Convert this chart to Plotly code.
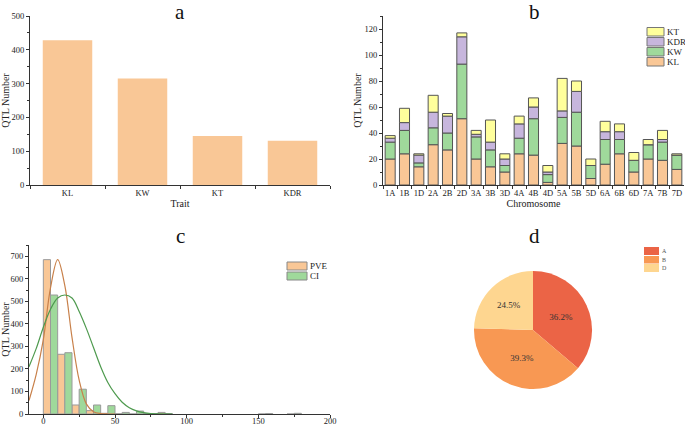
import plotly.graph_objects as go

# ---------------- data ----------------
traits = ["KL", "KW", "KT", "KDR"]
trait_counts = [428, 315, 145, 131]

chromosomes = ["1A", "1B", "1D", "2A", "2B", "2D", "3A", "3B", "3D", "4A", "4B",
               "4D", "5A", "5B", "5D", "6A", "6B", "6D", "7A", "7B", "7D"]
kl = [20, 24, 14, 31, 27, 51, 20, 14, 10, 24, 23, 2, 32, 30, 5, 16, 24, 10, 20, 19, 12]
kw = [13, 18, 3, 13, 13, 42, 17, 13, 5, 12, 28, 6, 20, 26, 10, 19, 11, 9, 11, 14, 11]
kdr = [3, 6, 6, 12, 13, 21, 2, 6, 5, 11, 9, 2, 5, 16, 0, 6, 6, 0, 0, 2, 0]
kt = [2, 11, 1, 13, 2, 3, 3, 17, 4, 6, 7, 5, 25, 8, 5, 8, 6, 6, 4, 7, 1]

bin_centers = [5, 15, 25, 35, 45, 55, 65, 75, 85, 155, 175]
pve_counts = [685, 265, 40, 15, 3, 1, 0, 2, 7, 0, 0]
ci_counts = [528, 272, 110, 40, 37, 7, 13, 2, 2, 2, 3]

pve_curve_x = [-10, -5, 0, 5, 10, 15, 20, 25, 30, 35, 40, 45, 50]
pve_curve_y = [60, 175, 330, 560, 685, 570, 340, 150, 45, 10, 2, 0, 0]
ci_curve_x = [-10, -5, 0, 5, 10, 15, 20, 25, 30, 35, 40, 45, 50, 55, 60, 65, 70, 75, 80, 90]
ci_curve_y = [210, 290, 385, 465, 515, 528, 515, 455, 380, 295, 210, 140, 90, 52, 28, 14, 6, 2, 1, 0]

genomes = ["A", "B", "D"]
genome_share = [36.2, 39.3, 24.5]

# ---------------- style ----------------
FONT = "Liberation Serif"
C_KL = "#F9C796"
C_KW = "#9FD99B"
C_KDR = "#C7B6DD"
C_KT = "#FFFF9C"
PIE_COLORS = ["#EB6446", "#F89853", "#FED690"]
EDGE = "#555555"
W, H = 685, 426


def px_x(p):
    return p / W


def px_y(p):
    return 1 - p / H


fig = go.Figure()

# Panel a
fig.add_trace(go.Bar(x=traits, y=trait_counts, marker=dict(color=C_KL, line=dict(width=0)),
                     width=0.66, xaxis="x", yaxis="y"))

# Panel b stacked (bases from cumulative sums of the series)
series_b = [("KL", kl, C_KL), ("KW", kw, C_KW), ("KDR", kdr, C_KDR), ("KT", kt, C_KT)]
base = [0] * len(chromosomes)
for name, vals, col in series_b:
    fig.add_trace(go.Bar(x=chromosomes, y=vals, base=list(base), name=name, width=0.7,
                         marker=dict(color=col, line=dict(color=EDGE, width=1)),
                         xaxis="x2", yaxis="y2"))
    base = [b + v for b, v in zip(base, vals)]

# Panel c histogram
fig.add_trace(go.Bar(x=bin_centers, y=pve_counts, name="PVE", width=5, offset=-5,
                     marker=dict(color=C_KL, line=dict(color="#9a9a9a", width=1)),
                     xaxis="x3", yaxis="y3"))
fig.add_trace(go.Bar(x=bin_centers, y=ci_counts, name="CI", width=5, offset=0,
                     marker=dict(color=C_KW, line=dict(color="#9a9a9a", width=1)),
                     xaxis="x3", yaxis="y3"))
fig.add_trace(go.Scatter(x=pve_curve_x, y=pve_curve_y, mode="lines",
                         line=dict(color="#C8804A", width=1.2, shape="spline"), xaxis="x3", yaxis="y3"))
fig.add_trace(go.Scatter(x=ci_curve_x, y=ci_curve_y, mode="lines",
                         line=dict(color="#4E9A4E", width=1.2, shape="spline"), xaxis="x3", yaxis="y3"))

# Panel d pie
fig.add_trace(go.Pie(labels=genomes, values=genome_share, sort=False, direction="clockwise",
                     marker=dict(colors=PIE_COLORS, line=dict(width=0)),
                     texttemplate="%{value:.1f}%", textposition="inside", insidetextorientation="horizontal",
                     textfont=dict(family=FONT, size=9, color="#333333"),
                     domain=dict(x=[px_x(474), px_x(592)], y=[px_y(389), px_y(271)])))

axis_common = dict(showline=True, linecolor="#333333", linewidth=1, ticks="outside", ticklen=3,
                   tickcolor="#333333", tickfont=dict(family=FONT, size=8.5, color="#222222"),
                   showgrid=False, zeroline=False, automargin=False)
ytitle = dict(text="QTL Number", font=dict(size=10), standoff=1)

fig.update_layout(
    width=W, height=H, margin=dict(l=0, r=0, t=0, b=0, autoexpand=False),
    paper_bgcolor="white", plot_bgcolor="white",
    barmode="overlay", showlegend=False,
    font=dict(family=FONT, color="#222222"),
    xaxis=dict(domain=[px_x(30), px_x(330)], anchor="y", tickson="boundaries",
               title=dict(text="Trait", font=dict(size=10), standoff=2), **axis_common),
    yaxis=dict(domain=[px_y(185), px_y(16)], anchor="x", range=[0, 500], dtick=100,
               minor=dict(ticks="outside", ticklen=2, dtick=50, tickcolor="#333333"),
               title=ytitle, **axis_common),
    xaxis2=dict(domain=[px_x(383), px_x(684)], anchor="y2", tickson="boundaries", tickangle=0,
                title=dict(text="Chromosome", font=dict(size=10), standoff=2), **axis_common),
    yaxis2=dict(domain=[px_y(185), px_y(16)], anchor="x2", range=[0, 130], dtick=20,
                minor=dict(ticks="outside", ticklen=2, dtick=10, tickcolor="#333333"),
                title=ytitle, **axis_common),
    xaxis3=dict(domain=[px_x(29), px_x(330)], anchor="y3", range=[-10, 200], dtick=50,
                ticklabelstandoff=-4,
                minor=dict(ticks="outside", ticklen=2, dtick=25, tickcolor="#333333"), **axis_common),
    yaxis3=dict(domain=[px_y(414), px_y(245)], anchor="x3", range=[0, 750], dtick=100,
                minor=dict(ticks="outside", ticklen=2, dtick=50, tickcolor="#333333"),
                title=ytitle, **axis_common),
)

# ---- panel titles ----
for txt, x, y in [("a", 180, 12), ("b", 534, 12), ("c", 180, 236), ("d", 534, 236)]:
    fig.add_annotation(text=txt, x=px_x(x), y=px_y(y), xref="paper", yref="paper", showarrow=False,
                       xanchor="center", yanchor="middle",
                       font=dict(family=FONT, size=21, color="#111111"))


# ---- legends drawn as keys ----
def legend_key(x0, x1, y0, y1, color, label, tx, size, edge, tcolor="#222222"):
    fig.add_shape(type="rect", xref="paper", yref="paper", x0=px_x(x0), x1=px_x(x1),
                  y0=px_y(y1), y1=px_y(y0), fillcolor=color,
                  line=dict(color=edge if edge else color, width=1 if edge else 0))
    fig.add_annotation(text=label, x=px_x(tx), y=px_y((y0 + y1) / 2), xref="paper", yref="paper",
                       showarrow=False, xanchor="left", yanchor="middle",
                       font=dict(family=FONT, size=size, color=tcolor))


b_labels = ["KT", "KDR", "KW", "KL"]
b_colors = [C_KT, C_KDR, C_KW, C_KL]
b_rows = [(27.5, 36), (37.5, 46), (47.5, 56), (57.5, 66)]
for lab, col, (y0, y1) in zip(b_labels, b_colors, b_rows):
    legend_key(647, 664, y0, y1, col, lab, 665, 9, "#777777")

c_labels = ["PVE", "CI"]
c_colors = [C_KL, C_KW]
c_rows = [(262, 270), (272, 280)]
for lab, col, (y0, y1) in zip(c_labels, c_colors, c_rows):
    legend_key(287, 307, y0, y1, col, lab, 308, 9, "#888888")

d_rows = [(247, 255), (256, 263.5), (264, 272)]
for lab, col, (y0, y1) in zip(genomes, PIE_COLORS, d_rows):
    legend_key(644, 659, y0, y1, col, lab, 660, 6, None, "#555555")

fig.write_html("out.html", config={"displayModeBar": False},
               post_script="document.body.style.margin='0';document.body.style.overflow='hidden';")
